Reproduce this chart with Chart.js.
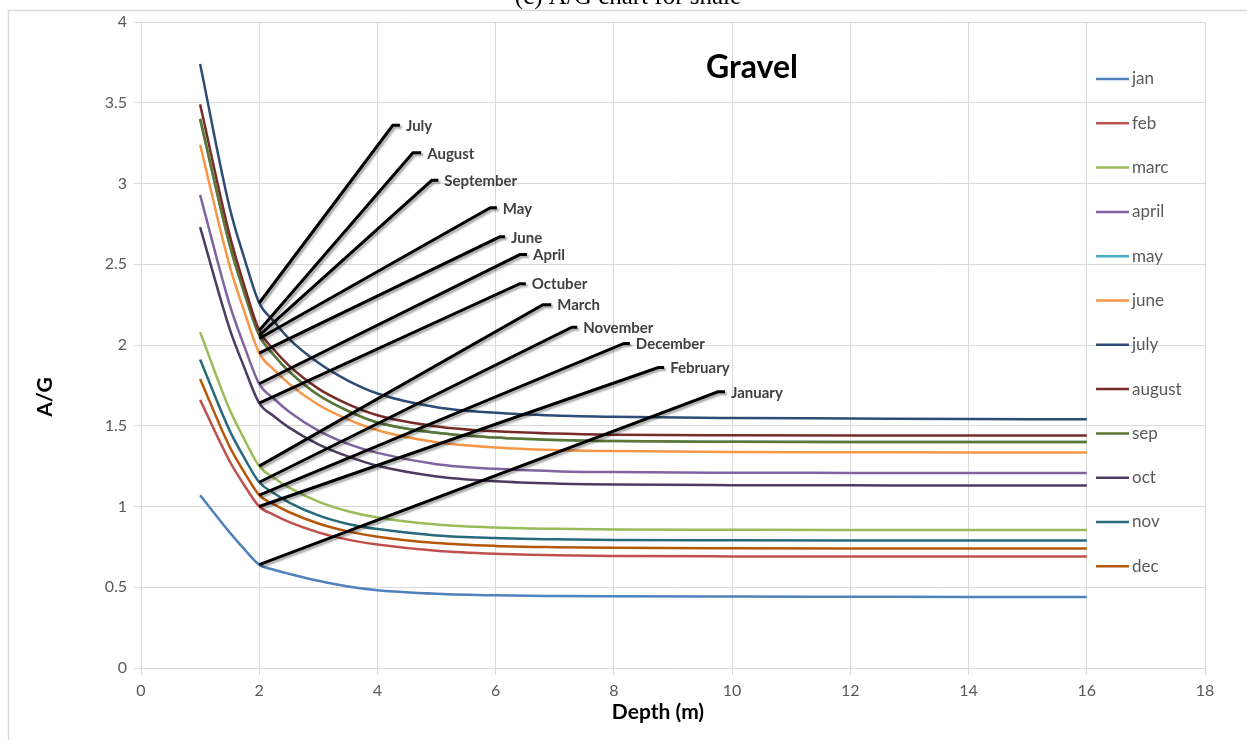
<!DOCTYPE html>
<html lang="en">
<head>
    <meta charset="UTF-8">
    <title>A/G chart - Gravel</title>
    <script src="https://cdn.jsdelivr.net/npm/chart.js"></script>
    <style>
        body {
            margin: 0;
            padding: 0;
            background: #fff;
        }
        #wrap {
            width: 1247px;
            height: 740px;
        }
    </style>
</head>
<body>
    <div id="wrap">
        <canvas id="agChart" width="1247" height="740"></canvas>
    </div>
    <script>
        // depth in metres
        const depths = [1, 1.5, 1.75, 2, 2.25, 2.5, 3, 3.5, 4, 5, 6, 7, 8, 10, 12, 14, 16];

        // A/G per month
        const jan    = [1.07, 0.84, 0.735, 0.64, 0.608, 0.584, 0.54, 0.505, 0.482, 0.46, 0.45, 0.446, 0.444, 0.442, 0.441, 0.44, 0.44];
        const feb    = [1.66, 1.28, 1.13, 1.00, 0.948, 0.905, 0.84, 0.795, 0.765, 0.726, 0.707, 0.698, 0.694, 0.691, 0.69, 0.69, 0.69];
        const marc   = [2.08, 1.60, 1.415, 1.25, 1.177, 1.118, 1.03, 0.971, 0.932, 0.889, 0.870, 0.862, 0.858, 0.856, 0.855, 0.855, 0.855];
        const april  = [2.93, 2.25, 1.99, 1.76, 1.667, 1.589, 1.47, 1.388, 1.332, 1.262, 1.233, 1.219, 1.213, 1.209, 1.208, 1.207, 1.207];
        const may    = [3.40, 2.62, 2.32, 2.06, 1.937, 1.838, 1.69, 1.592, 1.52, 1.456, 1.427, 1.412, 1.405, 1.401, 1.40, 1.40, 1.40];
        const june   = [3.24, 2.49, 2.205, 1.95, 1.847, 1.761, 1.63, 1.539, 1.472, 1.398, 1.366, 1.350, 1.343, 1.337, 1.336, 1.335, 1.335];
        const july   = [3.74, 2.85, 2.535, 2.26, 2.146, 2.04, 1.89, 1.78, 1.70, 1.615, 1.58, 1.563, 1.555, 1.548, 1.545, 1.542, 1.54];
        const august = [3.49, 2.68, 2.365, 2.09, 1.971, 1.874, 1.73, 1.634, 1.565, 1.496, 1.466, 1.452, 1.445, 1.441, 1.44, 1.44, 1.44];
        const sep    = [3.40, 2.62, 2.32, 2.06, 1.937, 1.838, 1.69, 1.592, 1.52, 1.456, 1.427, 1.412, 1.405, 1.401, 1.40, 1.40, 1.40];
        const oct    = [2.73, 2.10, 1.858, 1.64, 1.559, 1.49, 1.385, 1.31, 1.252, 1.186, 1.156, 1.142, 1.136, 1.132, 1.131, 1.13, 1.13];
        const nov    = [1.91, 1.47, 1.30, 1.15, 1.082, 1.026, 0.945, 0.892, 0.860, 0.821, 0.805, 0.797, 0.793, 0.791, 0.79, 0.79, 0.79];
        const dec    = [1.79, 1.37, 1.21, 1.07, 1.013, 0.966, 0.895, 0.846, 0.813, 0.774, 0.756, 0.748, 0.744, 0.741, 0.74, 0.74, 0.74];

        const seriesNames = ['jan', 'feb', 'marc', 'april', 'may', 'june', 'july', 'august', 'sep', 'oct', 'nov', 'dec'];
        const seriesData = [jan, feb, marc, april, may, june, july, august, sep, oct, nov, dec];
        const seriesColors = ['#4f81bd', '#c0504d', '#9bbb59', '#8064a2', '#4bacc6', '#f79646',
                              '#2c4d75', '#772c2a', '#5f7530', '#4d3b62', '#276a7c', '#b65708'];

        const xTicks = [0, 2, 4, 6, 8, 10, 12, 14, 16, 18];
        const yTicks = [0, 0.5, 1, 1.5, 2, 2.5, 3, 3.5, 4];

        // callout labels: text, value at depth 2, elbow (x,y), end x
        const calloutText  = ['July', 'August', 'September', 'May', 'June', 'April', 'Octuber', 'March', 'November', 'December', 'February', 'January'];
        const calloutFromY = [2.26, 2.09, 2.06, 2.04, 1.95, 1.76, 1.64, 1.25, 1.15, 1.07, 1.00, 0.64];
        const calloutElbowX = [4.26, 4.60, 4.92, 5.91, 6.07, 6.41, 6.41, 6.80, 7.29, 8.17, 8.75, 9.76];
        const calloutEndX   = [4.38, 4.74, 5.03, 6.02, 6.16, 6.53, 6.51, 6.94, 7.38, 8.27, 8.85, 9.88];
        const calloutY      = [3.36, 3.19, 3.02, 2.85, 2.67, 2.56, 2.38, 2.25, 2.11, 2.01, 1.86, 1.71];

        const FONT = 'Lato, "Noto Sans", sans-serif';
        const GRID = '#d9d9d9';

        const datasets = seriesNames.map((name, i) => ({
            label: name,
            data: depths.map((d, j) => ({ x: d, y: seriesData[i][j] })),
            borderColor: seriesColors[i],
            backgroundColor: seriesColors[i],
            borderWidth: 2.5,
            pointRadius: 0,
            cubicInterpolationMode: 'monotone',
            fill: false,
            // may sits under sep
            order: name === 'may' ? 2 : 1
        }));

        calloutText.forEach((t, i) => {
            datasets.push({
                label: t,
                callout: true,
                data: [
                    { x: 2, y: calloutFromY[i] },
                    { x: calloutElbowX[i], y: calloutY[i] },
                    { x: calloutEndX[i], y: calloutY[i] }
                ],
                borderColor: '#000',
                borderWidth: 3,
                pointRadius: 0,
                tension: 0,
                fill: false,
                order: 0
            });
        });

        const calloutShadow = {
            id: 'calloutShadow',
            beforeDatasetDraw(chart, args) {
                const ds = chart.data.datasets[args.index];
                if (!ds.callout) return;
                const ctx = chart.ctx;
                ctx.save();
                ctx.shadowColor = 'rgba(0,0,0,0.35)';
                ctx.shadowOffsetX = 2;
                ctx.shadowOffsetY = 2;
                ctx.shadowBlur = 2;
            },
            afterDatasetDraw(chart, args) {
                const ds = chart.data.datasets[args.index];
                if (!ds.callout) return;
                chart.ctx.restore();
            }
        };

        const decorations = {
            id: 'decorations',
            beforeDraw(chart) {
                const ctx = chart.ctx;
                ctx.save();
                ctx.fillStyle = '#fff';
                ctx.fillRect(0, 0, chart.width, chart.height);
                // clipped caption from the page above
                ctx.fillStyle = '#000';
                ctx.font = '25px "Liberation Serif", serif';
                ctx.textAlign = 'center';
                ctx.textBaseline = 'alphabetic';
                ctx.fillText('(c) A/G chart for shale', 628, 4);
                ctx.strokeStyle = GRID;
                ctx.lineWidth = 1.5;
                ctx.strokeRect(8.5, 10.5, 1260, 760);
                ctx.restore();
            },
            afterDraw(chart) {
                const ctx = chart.ctx;
                const xs = chart.scales.x, ys = chart.scales.y;
                ctx.save();

                // callout labels
                ctx.font = 'bold 15px ' + FONT;
                ctx.fillStyle = '#404040';
                ctx.textAlign = 'left';
                ctx.textBaseline = 'middle';
                calloutText.forEach((t, i) => {
                    ctx.fillText(t, xs.getPixelForValue(calloutEndX[i]) + 6, ys.getPixelForValue(calloutY[i]) + 1);
                });

                // title inside plot
                ctx.fillStyle = '#000';
                ctx.font = 'bold 32px ' + FONT;
                ctx.textAlign = 'center';
                ctx.fillText('Gravel', 752, 68);

                // axis titles
                ctx.font = 'bold 21px ' + FONT;
                ctx.fillText('Depth (m)', 658, 712);
                ctx.save();
                ctx.translate(45, 397);
                ctx.rotate(-Math.PI / 2);
                ctx.fillText('A/G', 0, 0);
                ctx.restore();

                // legend
                ctx.font = '17px ' + FONT;
                ctx.textAlign = 'left';
                ctx.fillStyle = '#595959';
                seriesNames.forEach((name, i) => {
                    const y = 79 + i * 44.3;
                    ctx.strokeStyle = seriesColors[i];
                    ctx.lineWidth = 2.5;
                    ctx.beginPath();
                    ctx.moveTo(1096, y);
                    ctx.lineTo(1129, y);
                    ctx.stroke();
                    ctx.fillText(name, 1132, y);
                });
                ctx.restore();
            }
        };

        new Chart(document.getElementById('agChart'), {
            type: 'line',
            data: { datasets: datasets },
            options: {
                responsive: false,
                animation: false,
                layout: { padding: { top: 22, right: 42, left: 0, bottom: 0 } },
                plugins: {
                    legend: { display: false },
                    tooltip: { enabled: false }
                },
                scales: {
                    x: {
                        type: 'linear',
                        min: 0,
                        max: 18,
                        afterBuildTicks: s => { s.ticks = xTicks.map(v => ({ value: v })); },
                        afterFit: s => { s.height = 72; },
                        ticks: {
                            color: '#595959',
                            font: { family: FONT, size: 16 },
                            padding: 6,
                            callback: v => String(v)
                        },
                        grid: { color: GRID, tickColor: GRID, tickLength: 7 },
                        border: { color: GRID }
                    },
                    y: {
                        type: 'linear',
                        min: 0,
                        max: 4,
                        afterBuildTicks: s => { s.ticks = yTicks.map(v => ({ value: v })); },
                        afterFit: s => { s.width = 141; },
                        ticks: {
                            color: '#595959',
                            font: { family: FONT, size: 16 },
                            padding: 7,
                            callback: v => String(Math.round(v * 10) / 10)
                        },
                        grid: { color: GRID, tickColor: GRID, tickLength: 7 },
                        border: { color: GRID }
                    }
                }
            },
            plugins: [calloutShadow, decorations]
        });
    </script>
</body>
</html>
